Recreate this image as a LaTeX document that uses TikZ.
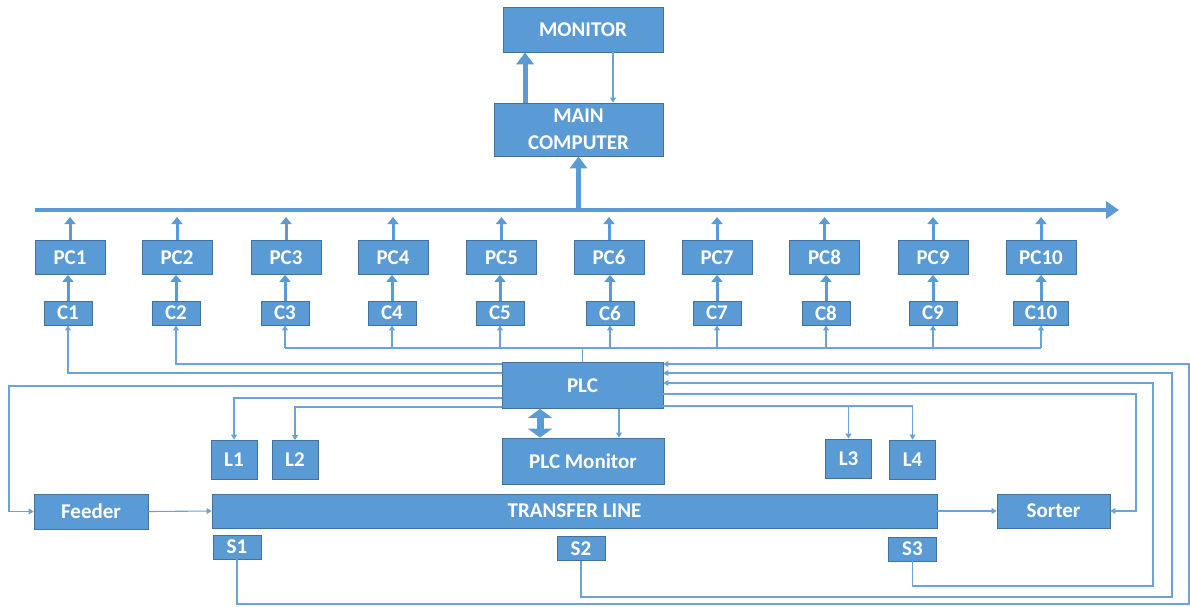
\documentclass[tikz,border=0pt]{standalone}
\usepackage{fontspec}
\setmainfont{Carlito}
\usetikzlibrary{arrows.meta}
\usetikzlibrary{calc}

\definecolor{boxblue}{RGB}{91,155,213}
\definecolor{edgeblue}{RGB}{65,113,156}
\definecolor{wireblue}{RGB}{105,163,218}

\begin{document}
\begin{tikzpicture}[x=1pt, y=-1pt,
    box/.style={rectangle, draw=edgeblue, fill=boxblue, line width=0.8pt, inner sep=0pt, text=white, font=\fontsize{21}{27}\selectfont\bfseries},
    pcbox/.style={box, minimum width=70pt, minimum height=34pt},
    cbox/.style={box, minimum width=48pt, minimum height=24pt},
    lbox/.style={box, minimum width=46pt, minimum height=39pt},
    link/.style={draw=wireblue, line width=1.1pt},
    wire/.style={link, -{Triangle[width=6pt,length=5pt]}},
    pcup/.style={draw=boxblue, line width=3pt, -{Triangle[width=11pt,length=7pt]}},
    fatup/.style={draw=boxblue, line width=5pt, -{Triangle[width=17pt,length=12pt]}},
    duplex/.style={draw=boxblue, line width=7pt, {Triangle[width=24pt,length=9pt]}-{Triangle[width=24pt,length=9pt]}},
    busline/.style={draw=boxblue, line width=4pt, -{Triangle[width=17pt,length=13pt]}}]
  \useasboundingbox (0,0) rectangle (1190,606);

  % top
  \node[box, minimum width=160pt, minimum height=45pt] (mon) at (583,29.5) {MONITOR};
  \node[box, minimum width=169pt, minimum height=53pt, align=center] (main) at (578.5,129.5) {MAIN\\COMPUTER};

  % computers
  \node[pcbox] (pc1) at (70,257.5) {PC1};
  \node[pcbox] (pc2) at (177,257.5) {PC2};
  \node[pcbox] (pc3) at (286,257.5) {PC3};
  \node[pcbox] (pc4) at (393,257.5) {PC4};
  \node[pcbox] (pc5) at (501.5,257.5) {PC5};
  \node[pcbox] (pc6) at (609,257.5) {PC6};
  \node[pcbox] (pc7) at (717,257.5) {PC7};
  \node[pcbox] (pc8) at (824.5,257.5) {PC8};
  \node[pcbox] (pc9) at (933,257.5) {PC9};
  \node[pcbox] (pc10) at (1041,257.5) {PC10};

  \node[cbox] (c1) at (68,313) {C1};
  \node[cbox] (c2) at (176,313) {C2};
  \node[cbox] (c3) at (285,313) {C3};
  \node[cbox] (c4) at (392,313) {C4};
  \node[cbox] (c5) at (500,313) {C5};
  \node[cbox] (c6) at (610,313) {C6};
  \node[cbox] (c7) at (717,313) {C7};
  \node[cbox] (c8) at (826,313) {C8};
  \node[cbox] (c9) at (933,313) {C9};
  \node[cbox, minimum width=55pt] (c10) at (1041,313) {C10};

  % plant
  \node[box, minimum width=161pt, minimum height=46pt] (plc) at (582.5,385.5) {PLC};
  \node[box, minimum width=162pt, minimum height=46pt] (plcmon) at (583,461) {PLC Monitor};
  \node[lbox] (l1) at (234,459.5) {L1};
  \node[lbox] (l2) at (295,460) {L2};
  \node[lbox] (l3) at (848.5,458.5) {L3};
  \node[lbox] (l4) at (912.5,459.5) {L4};
  \node[box, minimum width=725pt, minimum height=34pt] (tl) at (574.5,511) {TRANSFER LINE};
  \node[box, minimum width=114pt, minimum height=35pt] (feeder) at (91,511.5) {Feeder};
  \node[box, minimum width=113pt, minimum height=34pt] (sorter) at (1053.5,511) {Sorter};
  \node[cbox] (s1) at (237,547) {S1};
  \node[cbox] (s2) at (581,548.5) {S2};
  \node[cbox] (s3) at (912.5,549) {S3};

  % levels and bends
  \coordinate (busl) at (35,210);
  \coordinate (busr) at (1119,210);
  \coordinate (pctip) at (0,217);
  \coordinate (cbus) at (0,348);
  \coordinate (yc2) at (0,364);
  \coordinate (yc1) at (0,373);
  \coordinate (fdturn) at (9,386);
  \coordinate (yl1) at (0,398);
  \coordinate (yl2) at (0,407);
  \coordinate (yr1) at (0,364);
  \coordinate (yr2) at (0,373);
  \coordinate (yr3) at (0,383);
  \coordinate (s1turn) at (1189,604);
  \coordinate (s2turn) at (1172,597);
  \coordinate (s3turn) at (1153,586);
  \coordinate (soturn) at (1136,394);
  \coordinate (yl34) at (0,406);
  \coordinate (upx) at (525,0);
  \coordinate (downx) at (613,0);
  \coordinate (dupx) at (540,0);
  \coordinate (monx) at (619,0);

  % network
  \draw[busline] (busl) -- (busr);
  \draw[fatup] (main.south |- busl) -- (main.south);
  \draw[fatup] (main.north -| upx) -- (mon.south -| upx);
  \draw[wire] (mon.south -| downx) -- (main.north -| downx);
  \foreach \i in {1,...,10} {
    \draw[pcup] (pc\i.north) -- (pc\i.north |- pctip);
    \draw[pcup] (c\i.north) -- (c\i.north |- pc\i.south);
  }

  % PLC to cameras
  \draw[wire] (plc.west |- yc2) -| (c2.south);
  \draw[wire] (plc.west |- yc1) -| (c1.south);
  \draw[link] (plc.north) -- (plc.north |- cbus);
  \draw[link] (c3.south |- cbus) -- (c10.south |- cbus);
  \foreach \i in {3,...,10}
    \draw[wire] (c\i.south |- cbus) -- (c\i.south);

  % PLC to plant
  \draw[wire] (plc.west |- fdturn) -- (fdturn) |- (feeder.west);
  \draw[wire] (plc.west |- yl1) -| (l1.north);
  \draw[wire] (plc.west |- yl2) -| (l2.north);
  \draw[wire] (plc.east |- yl34) -| (l4.north);
  \draw[wire] (l3.north |- yl34) -- (l3.north);
  \draw[wire] (plc.east |- soturn) -- (soturn) |- (sorter.east);
  \draw[duplex] (plc.south -| dupx) -- (plcmon.north -| dupx);
  \draw[wire] (plc.south -| monx) -- (plcmon.north -| monx);
  \draw[wire] (feeder.east) -- (tl.west);
  \draw[wire] (tl.east) -- (sorter.west);

  % sensors back to PLC
  \draw[wire] (s1.south) |- (s1turn) |- (plc.east |- yr1);
  \draw[wire] (s2.south) |- (s2turn) |- (plc.east |- yr2);
  \draw[wire] (s3.south) |- (s3turn) |- (plc.east |- yr3);
\end{tikzpicture}
\end{document}
